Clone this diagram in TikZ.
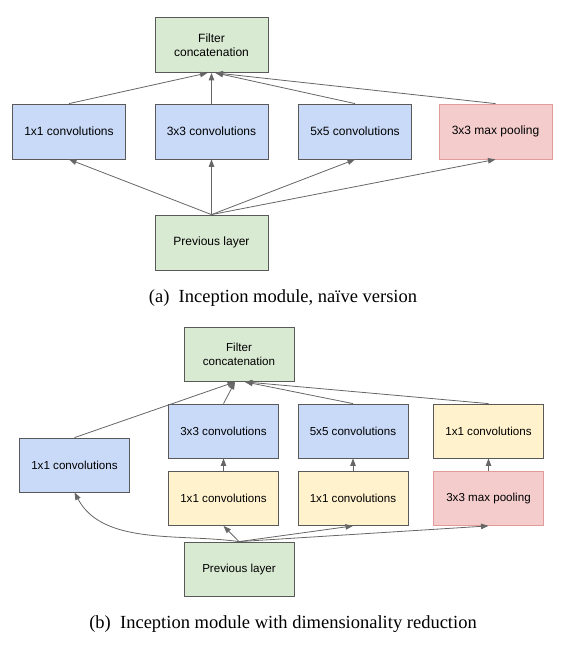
\documentclass[tikz,border=0pt]{standalone}
\usepackage{fontspec}
\setmainfont{Liberation Serif}
\newfontfamily\boxfont{Liberation Sans}
\usetikzlibrary{arrows.meta}

\definecolor{edgegray}{HTML}{595959}
\definecolor{arrowgray}{HTML}{666666}
\definecolor{convblue}{HTML}{C9DAF8}
\definecolor{concatgreen}{HTML}{D9EAD3}
\definecolor{poolred}{HTML}{F4CCCC}
\definecolor{poolline}{HTML}{E39A9A}
\definecolor{reduceyellow}{HTML}{FFF2CC}

\begin{document}
\begin{tikzpicture}[
            x=1pt,y=-1pt,
            layerA/.style={draw=edgegray,line width=0.8pt,inner sep=0pt,
                minimum width=113pt,minimum height=55pt,align=center,
                font=\boxfont\fontsize{12}{14.5}\selectfont},
            layerB/.style={layerA,minimum width=110pt,minimum height=54pt,
                font=\boxfont\fontsize{11.6}{14}\selectfont},
            convfill/.style={fill=convblue},
            concatfill/.style={fill=concatgreen},
            poolfill/.style={fill=poolred,draw=poolline},
            reducefill/.style={fill=reduceyellow},
            flow/.style={draw=arrowgray,line width=0.8pt,
                -{Triangle[length=7.5pt,width=5.5pt]}},
            caption/.style={font=\fontsize{18.5}{22}\selectfont}
        ]
            \useasboundingbox (0,0) rectangle (565,650);

            % (a) naive version
            \node[layerA,concatfill] (filtA) at (211.5,45) {Filter\\concatenation};
            \node[layerA,convfill] (c1A) at (69,131.5) {1x1 convolutions};
            \node[layerA,convfill] (c3A) at (211.5,131.5) {3x3 convolutions};
            \node[layerA,convfill] (c5A) at (355,131.5) {5x5 convolutions};
            \node[layerA,poolfill] (poolA) at (495.5,131.5) {3x3 max pooling};
            \node[layerA,concatfill] (prevA) at (211.5,242.5) {Previous layer};
            \node[caption] (capA) at (283,298) {(a)\hspace{0.5em}Inception module, naïve version};

            \draw[flow] (c1A.north) -- ([xshift=-4pt]filtA.south);
            \draw[flow] (c3A.north) -- (filtA.south);
            \draw[flow] (c5A.north) -- ([xshift=4pt]filtA.south);
            \draw[flow] (poolA.north) -- ([xshift=4pt]filtA.south);
            \foreach \n in {c1A,c3A,c5A,poolA}
                \draw[flow] (prevA.north) -- (\n.south);

            % (b) with dimensionality reduction
            \node[layerB,concatfill] (filtB) at (239,354.5) {Filter\\concatenation};
            \node[layerB,convfill] (c1B) at (74.5,465) {1x1 convolutions};
            \node[layerB,convfill] (c3B) at (223.5,431) {3x3 convolutions};
            \node[layerB,convfill] (c5B) at (353,431) {5x5 convolutions};
            \node[layerB,reducefill] (projB) at (488.5,431) {1x1 convolutions};
            \node[layerB,reducefill] (r3B) at (223.5,498.5) {1x1 convolutions};
            \node[layerB,reducefill] (r5B) at (353,498.5) {1x1 convolutions};
            \node[layerB,poolfill] (poolB) at (488.5,498.5) {3x3 max pooling};
            \node[layerB,concatfill] (prevB) at (239,569) {Previous layer};
            \node[caption] (capB) at (283,624) {(b)\hspace{0.5em}Inception module with dimensionality reduction};

            \draw[flow] (c1B.north) -- ([xshift=-4pt]filtB.south);
            \draw[flow] (c3B.north) -- ([xshift=-4pt]filtB.south);
            \draw[flow] (c5B.north) -- ([xshift=6pt]filtB.south);
            \draw[flow] (projB.north) -- ([xshift=6pt]filtB.south);
            \draw[flow] (r3B.north) -- (c3B.south);
            \draw[flow] (r5B.north) -- (c5B.south);
            \draw[flow] (poolB.north) -- (projB.south);
            \draw[flow] (prevB.north) to[out=172,in=-62,looseness=0.9] (c1B.south);
            \foreach \n in {r3B,r5B,poolB}
                \draw[flow] (prevB.north) -- (\n.south);
        \end{tikzpicture}
\end{document}
